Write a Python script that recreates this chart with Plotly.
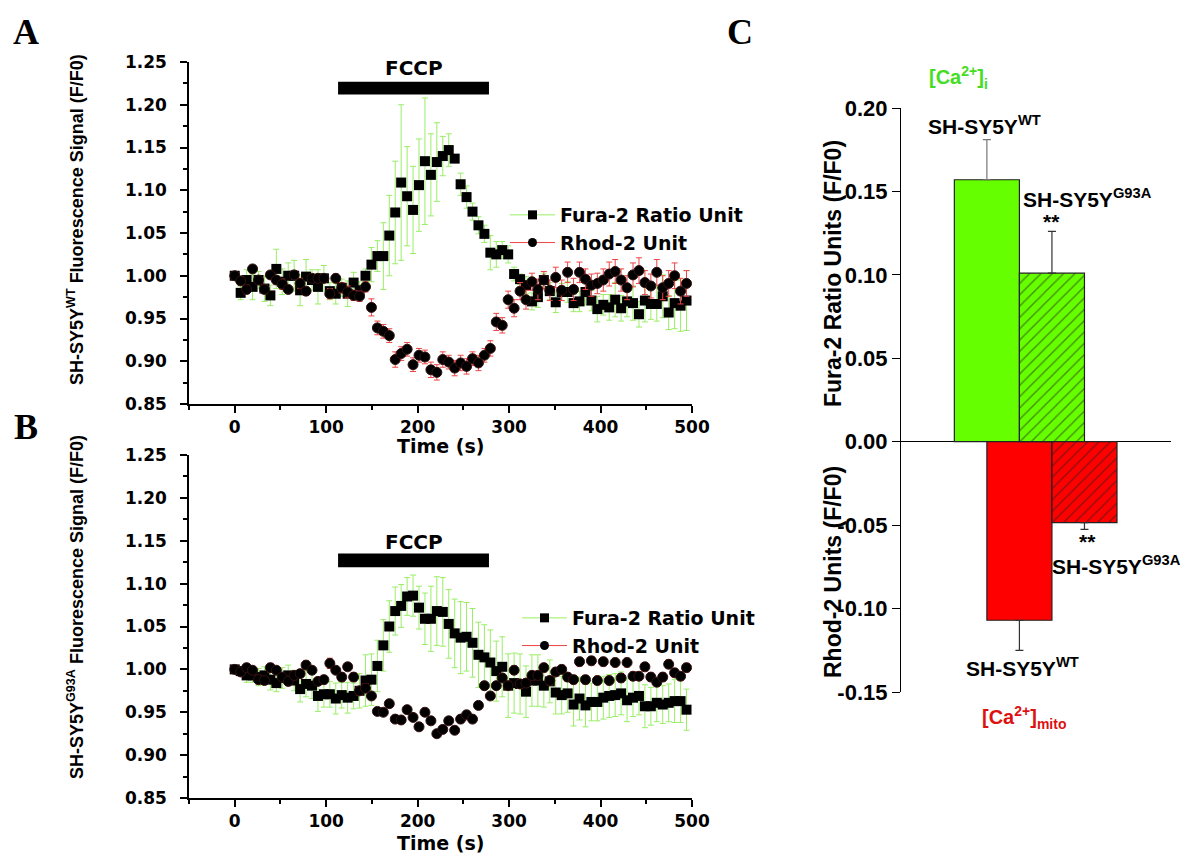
import plotly.graph_objects as go

GREEN_ERR = "#99ee66"
RED_ERR = "#ee4444"
BAR_GREEN = "#66ff00"
BAR_RED = "#ff0000"
TEXT_GREEN = "#44dd22"
TEXT_RED = "#dd1111"
WIDE = "DejaVu Sans"
ARIAL = "Liberation Sans"

TIME = [0, 6.5, 13, 19.5, 26, 32.5, 39, 45.5, 52, 58.5, 65, 71.5, 78, 84.5, 91, 97.5,
        104, 110.5, 117, 123.5, 130, 136.5, 143, 149.5, 156, 162.5, 169, 175.5, 182,
        188.5, 195, 201.5, 208, 214.5, 221, 227.5, 234, 240.5, 247, 253.5, 260, 266.5,
        273, 279.5, 286, 292.5, 299, 305.5, 312, 318.5, 325, 331.5, 338, 344.5, 351,
        357.5, 364, 370.5, 377, 383.5, 390, 396.5, 403, 409.5, 416, 422.5, 429, 435.5,
        442, 448.5, 455, 461.5, 468, 474.5, 481, 487.5, 494]

# panel A: SH-SY5Y WT
FURA_WT = [1.000, 0.980, 0.995, 0.987, 0.995, 0.985, 0.977, 1.008, 0.993, 1.000, 1.000,
           0.983, 0.999, 0.995, 0.987, 0.997, 0.982, 0.979, 0.986, 0.979, 0.992, 0.983,
           1.000, 1.013, 1.023, 1.023, 1.047, 1.074, 1.109, 1.093, 1.077, 1.106, 1.134,
           1.118, 1.133, 1.140, 1.147, 1.137, 1.107, 1.092, 1.075, 1.059, 1.049, 1.027,
           1.025, 1.030, 1.025, 1.002, 0.996, 0.989, 0.970, 0.975, 0.995, 0.982, 0.969,
           0.981, 0.981, 0.968, 0.970, 0.981, 0.971, 0.961, 0.966, 0.963, 0.972, 0.962,
           0.970, 0.968, 0.955, 0.971, 0.967, 0.967, 0.976, 0.957, 0.968, 0.965, 0.971]
FURA_WT_ERR = [0.005, 0.008, 0.012, 0.015, 0.010, 0.015, 0.012, 0.023, 0.015, 0.015, 0.018,
               0.018, 0.020, 0.012, 0.020, 0.015, 0.010, 0.012, 0.010, 0.015, 0.012, 0.010,
               0.008, 0.020, 0.018, 0.039, 0.047, 0.060, 0.091, 0.058, 0.051, 0.054, 0.074,
               0.048, 0.046, 0.023, 0.019, 0.003, 0.013, 0.013, 0.010, 0.010, 0.010, 0.020,
               0.015, 0.010, 0.010, 0.008, 0.006, 0.010, 0.010, 0.012, 0.008, 0.010, 0.012,
               0.010, 0.012, 0.010, 0.012, 0.015, 0.012, 0.015, 0.012, 0.015, 0.020, 0.015,
               0.018, 0.020, 0.015, 0.025, 0.018, 0.020, 0.025, 0.020, 0.030, 0.030, 0.035]
RHOD_WT = [1.000, 0.994, 0.984, 1.008, 0.995, 0.984, 1.001, 0.995, 0.990, 0.984, 1.001,
           0.991, 0.982, 0.997, 0.997, 0.997, 0.979, 0.997, 0.986, 0.981, 0.977, 0.976,
           0.987, 0.963, 0.939, 0.935, 0.930, 0.902, 0.909, 0.914, 0.896, 0.907, 0.905,
           0.890, 0.887, 0.902, 0.899, 0.892, 0.898, 0.894, 0.903, 0.898, 0.907, 0.915,
           0.946, 0.942, 0.972, 0.962, 0.982, 0.972, 0.993, 0.984, 0.995, 0.983, 0.998,
           0.983, 1.004, 0.984, 1.004, 0.996, 0.989, 0.991, 0.995, 1.002, 1.005, 0.995,
           0.986, 1.001, 1.006, 0.992, 0.988, 1.004, 0.986, 0.991, 1.000, 0.982, 0.991]
RHOD_WT_ERR = [0.004, 0.005, 0.005, 0.004, 0.004, 0.005, 0.004, 0.005, 0.006, 0.004, 0.005,
               0.006, 0.005, 0.004, 0.004, 0.004, 0.006, 0.005, 0.006, 0.007, 0.006, 0.006,
               0.006, 0.010, 0.008, 0.008, 0.008, 0.009, 0.008, 0.008, 0.008, 0.008, 0.008,
               0.009, 0.009, 0.009, 0.008, 0.009, 0.009, 0.009, 0.008, 0.009, 0.008, 0.009,
               0.010, 0.009, 0.010, 0.010, 0.010, 0.011, 0.010, 0.012, 0.010, 0.012, 0.012,
               0.012, 0.012, 0.013, 0.012, 0.012, 0.013, 0.012, 0.013, 0.014, 0.014, 0.013,
               0.014, 0.014, 0.015, 0.014, 0.014, 0.015, 0.014, 0.015, 0.015, 0.015, 0.015]

# panel B: SH-SY5Y G93A
FURA_G93A = [1.000, 0.998, 0.993, 0.993, 0.991, 0.993, 0.988, 0.984, 0.990, 0.993, 0.987,
             0.977, 0.983, 0.981, 0.969, 0.971, 0.971, 0.966, 0.970, 0.967, 0.969, 0.975,
             0.987, 0.988, 1.004, 1.028, 1.050, 1.068, 1.074, 1.085, 1.086, 1.072, 1.059,
             1.059, 1.068, 1.067, 1.053, 1.042, 1.037, 1.038, 1.031, 1.017, 1.014, 1.008,
             0.998, 1.003, 0.981, 0.984, 0.983, 0.974, 0.987, 0.987, 0.981, 0.986, 0.973,
             0.970, 0.972, 0.959, 0.966, 0.958, 0.962, 0.962, 0.967, 0.969, 0.970, 0.972,
             0.964, 0.967, 0.969, 0.957, 0.957, 0.961, 0.959, 0.961, 0.963, 0.963, 0.953]
FURA_G93A_ERR = [0.002, 0.005, 0.008, 0.008, 0.010, 0.010, 0.012, 0.010, 0.012, 0.012, 0.012,
                 0.015, 0.015, 0.015, 0.018, 0.015, 0.015, 0.018, 0.015, 0.018, 0.015, 0.020,
                 0.030, 0.030, 0.030, 0.030, 0.030, 0.028, 0.025, 0.022, 0.024, 0.025, 0.030,
                 0.038, 0.040, 0.040, 0.040, 0.040, 0.042, 0.040, 0.040, 0.038, 0.038, 0.038,
                 0.035, 0.035, 0.037, 0.035, 0.035, 0.030, 0.030, 0.030, 0.025, 0.025, 0.025,
                 0.022, 0.022, 0.025, 0.025, 0.025, 0.022, 0.022, 0.025, 0.025, 0.025, 0.025,
                 0.025, 0.022, 0.022, 0.025, 0.022, 0.022, 0.022, 0.022, 0.025, 0.025, 0.024]
RHOD_G93A = [1.000, 0.997, 1.002, 0.999, 0.988, 0.987, 1.002, 0.999, 0.991, 0.986, 0.993,
             0.995, 1.005, 0.999, 0.986, 0.988, 1.007, 0.999, 0.991, 1.003, 0.991, 0.975,
             0.978, 0.969, 0.951, 0.950, 0.960, 0.942, 0.941, 0.953, 0.944, 0.933, 0.950,
             0.940, 0.925, 0.930, 0.940, 0.929, 0.942, 0.947, 0.942, 0.958, 0.981, 0.969,
             0.981, 0.990, 0.981, 0.999, 0.983, 0.984, 0.993, 0.993, 1.002, 0.987, 0.997,
             1.000, 0.991, 0.988, 1.009, 0.988, 1.010, 0.987, 1.009, 0.987, 1.008, 0.990,
             1.008, 0.992, 0.992, 1.003, 0.991, 0.985, 0.991, 1.006, 0.996, 0.992, 1.002]
RHOD_G93A_ERR = [0.003, 0.004, 0.004, 0.004, 0.005, 0.004, 0.005, 0.004, 0.004, 0.005, 0.005,
                 0.004, 0.005, 0.004, 0.004, 0.005, 0.006, 0.004, 0.005, 0.004, 0.005, 0.005,
                 0.005, 0.004, 0.004, 0.004, 0.004, 0.004, 0.004, 0.004, 0.004, 0.004, 0.004,
                 0.004, 0.004, 0.004, 0.004, 0.004, 0.004, 0.004, 0.004, 0.004, 0.004, 0.004,
                 0.004, 0.005, 0.005, 0.005, 0.005, 0.005, 0.005, 0.005, 0.005, 0.005, 0.005,
                 0.005, 0.005, 0.005, 0.005, 0.005, 0.005, 0.005, 0.005, 0.005, 0.005, 0.005,
                 0.005, 0.005, 0.005, 0.005, 0.005, 0.005, 0.005, 0.005, 0.005, 0.005, 0.005]

FCCP_START = 113
FCCP_END = 278

# panel C: peak change from baseline
BAR_GROUPS = ["WT", "G93A"]
FURA_POS = [1.32, 2.32]
RHOD_POS = [1.82, 2.82]
FURA_DELTA = [0.157, 0.101]
FURA_DELTA_ERR = [0.024, 0.025]
RHOD_DELTA = [-0.107, -0.0485]
RHOD_DELTA_ERR = [0.018, 0.004]

# the page puts the plot 8px in from the top-left corner
OFF = 8
W, H = 1200 - OFF, 861 - OFF


def px_x(v):
    return (v - OFF) / W


def px_y(v):
    return 1 - (v - OFF) / H


fig = go.Figure()


def add_traces(fura, fura_err, rhod, rhod_err, xa, ya, legend):
    fig.add_trace(go.Scatter(
        x=TIME, y=fura, mode="markers", xaxis=xa, yaxis=ya, showlegend=False,
        marker=dict(symbol="square", size=10, color="black"),
        error_y=dict(type="data", array=fura_err, color=GREEN_ERR, thickness=1, width=3),
    ))
    fig.add_trace(go.Scatter(
        x=TIME, y=rhod, mode="markers", xaxis=xa, yaxis=ya, showlegend=False,
        marker=dict(symbol="circle", size=10, color="black", line=dict(color="#331111", width=1)),
        error_y=dict(type="data", array=rhod_err, color=RED_ERR, thickness=1, width=3),
    ))
    # legend samples
    fig.add_trace(go.Scatter(
        x=[None], y=[None], mode="lines+markers", name="Fura-2 Ratio Unit",
        xaxis=xa, yaxis=ya, legend=legend,
        line=dict(color=GREEN_ERR, width=1),
        marker=dict(symbol="square", size=9, color="black"),
    ))
    fig.add_trace(go.Scatter(
        x=[None], y=[None], mode="lines+markers", name="Rhod-2 Unit",
        xaxis=xa, yaxis=ya, legend=legend,
        line=dict(color=RED_ERR, width=1),
        marker=dict(symbol="circle", size=9, color="black"),
    ))


add_traces(FURA_WT, FURA_WT_ERR, RHOD_WT, RHOD_WT_ERR, "x", "y", "legend")
add_traces(FURA_G93A, FURA_G93A_ERR, RHOD_G93A, RHOD_G93A_ERR, "x2", "y2", "legend2")

for i, grp in enumerate(BAR_GROUPS):
    pattern = "" if grp == "WT" else "/"
    fig.add_trace(go.Bar(
        x=[FURA_POS[i]], y=[FURA_DELTA[i]], width=1, xaxis="x3", yaxis="y3",
        showlegend=False,
        marker=dict(color=BAR_GREEN, line=dict(color="#222222", width=1.2),
                    pattern=dict(shape=pattern, fgcolor="#222222", size=8, solidity=0.18)),
        error_y=dict(type="data", symmetric=False, array=[FURA_DELTA_ERR[i]], arrayminus=[0],
                     color="#777777" if grp == "WT" else "#333333", thickness=1.2, width=4),
    ))
    fig.add_trace(go.Bar(
        x=[RHOD_POS[i]], y=[RHOD_DELTA[i]], width=1, xaxis="x3", yaxis="y3",
        showlegend=False,
        marker=dict(color=BAR_RED, line=dict(color="#222222", width=1.2),
                    pattern=dict(shape=pattern, fgcolor="#222222", size=8, solidity=0.18)),
        error_y=dict(type="data", symmetric=False, array=[0], arrayminus=[RHOD_DELTA_ERR[i]],
                     color="#333333", thickness=1.2, width=4),
    ))

time_axis = dict(
    range=[-50, 500], tickvals=[0, 100, 200, 300, 400, 500], ticks="outside", ticklen=7,
    tickwidth=1.5, showline=True, linecolor="black", linewidth=1.5, showgrid=False,
    zeroline=False, tickfont=dict(family=WIDE, size=17, weight="bold", color="black"),
    minor=dict(tickvals=[-50, 50, 150, 250, 350, 450], ticks="outside", ticklen=4,
               tickcolor="black"),
    tickcolor="black",
)
signal_axis = dict(
    range=[0.85, 1.25], dtick=0.05, tickformat=".2f", ticks="outside", ticklen=7,
    tickwidth=1.5, showline=True, linecolor="black", linewidth=1.5, showgrid=False,
    zeroline=False, tickfont=dict(family=WIDE, size=17, weight="bold", color="black"),
    minor=dict(dtick=0.025, ticks="outside", ticklen=4, tickcolor="black"),
    tickcolor="black", ticklabelstandoff=10,
)

c_ticks = [-0.15, -0.10, -0.05, 0.0, 0.05, 0.10, 0.15, 0.20]
legend_style = dict(xanchor="left", yanchor="top", bgcolor="rgba(0,0,0,0)", tracegroupgap=0,
                    itemwidth=45, font=dict(family=WIDE, size=19, weight="bold", color="black"))

fig.update_layout(
    width=W, height=H, margin=dict(l=0, r=0, t=0, b=0, autoexpand=False),
    paper_bgcolor="white", plot_bgcolor="white",
    barmode="overlay",
    xaxis=dict(domain=[px_x(189), px_x(692)], anchor="y", **time_axis),
    yaxis=dict(domain=[px_y(404), px_y(62)], anchor="x", **signal_axis),
    xaxis2=dict(domain=[px_x(189), px_x(692)], anchor="y2", **time_axis),
    yaxis2=dict(domain=[px_y(798), px_y(455)], anchor="x2", **signal_axis),
    xaxis3=dict(domain=[px_x(901), px_x(1171)], anchor="y3", range=[0, 4.15], visible=False),
    yaxis3=dict(
        domain=[px_y(692), px_y(108)], anchor="x3", range=[-0.15, 0.20],
        tickvals=c_ticks, ticktext=[f"{v:.2f}" for v in c_ticks],
        ticks="outside", ticklen=8, tickwidth=1.2, tickcolor="black",
        showline=True, linecolor="black", linewidth=1.2, showgrid=False,
        zeroline=True, zerolinecolor="black", zerolinewidth=1.2,
        tickfont=dict(family=ARIAL, size=22, weight="bold", color="black"),
    ),
    legend=dict(x=px_x(505), y=px_y(196), **legend_style),
    legend2=dict(x=px_x(517), y=px_y(599), **legend_style),
)

# FCCP application bars
for xa, ya, y0, y1, ytxt in [("x", "y", 1.212, 1.227, 1.2425), ("x2", "y2", 1.119, 1.135, 1.148)]:
    fig.add_shape(type="rect", xref=xa, yref=ya, x0=FCCP_START, x1=FCCP_END, y0=y0, y1=y1,
                  fillcolor="black", line=dict(width=0))
    fig.add_annotation(xref=xa, yref=ya, x=(FCCP_START + FCCP_END) / 2, y=ytxt, text="FCCP",
                       showarrow=False, xanchor="center", yanchor="middle",
                       font=dict(family=WIDE, size=20, weight="bold", color="black"))

serif = dict(family="Liberation Serif", size=36, weight="bold")
annots = [
    # panel letters
    dict(x=26, y=32, text="A", font=dict(serif)),
    dict(x=26, y=427, text="B", font=dict(serif)),
    dict(x=740, y=32, text="C", font=dict(serif)),
    # axis titles A/B
    dict(x=75, y=220, text="SH-SY5Y<sup>WT</sup> Fluorescence Signal (F/F0)", textangle=-90,
         font=dict(family=ARIAL, size=18, weight="bold")),
    dict(x=75, y=607, text="SH-SY5Y<sup>G93A</sup> Fluorescence Signal (F/F0)", textangle=-90,
         font=dict(family=ARIAL, size=18, weight="bold")),
    dict(x=440, y=446, text="Time (s)", font=dict(family=WIDE, size=19, weight="bold")),
    dict(x=440, y=843, text="Time (s)", font=dict(family=WIDE, size=19, weight="bold")),
    # axis titles C
    dict(x=833, y=274, text="Fura-2 Ratio Units (F/F0)", textangle=-90,
         font=dict(family=ARIAL, size=23, weight="bold")),
    dict(x=833, y=572, text="Rhod-2 Units (F/F0)", textangle=-90,
         font=dict(family=ARIAL, size=23, weight="bold")),
    # compartment labels of panel C
    dict(x=958, y=78, text="[Ca<sup>2+</sup>]<sub>i</sub>",
         font=dict(family=ARIAL, size=20, weight="bold", color=TEXT_GREEN)),
    dict(x=1024, y=717, text="[Ca<sup>2+</sup>]<sub>mito</sub>",
         font=dict(family=ARIAL, size=20, weight="bold", color=TEXT_RED)),
]
for a in annots:
    a["font"].setdefault("color", "black")
    fig.add_annotation(xref="paper", yref="paper", x=px_x(a.pop("x")), y=px_y(a.pop("y")),
                       showarrow=False, xanchor="center", yanchor="middle", **a)

bar_labels = [
    (1.29, 0.190, "SH-SY5Y<sup>WT</sup>"),
    (2.86, 0.146, "SH-SY5Y<sup>G93A</sup>"),
    (2.31, 0.132, "**"),
    (2.86, -0.060, "**"),
    (3.31, -0.074, "SH-SY5Y<sup>G93A</sup>"),
    (1.86, -0.135, "SH-SY5Y<sup>WT</sup>"),
]
for x, y, txt in bar_labels:
    fig.add_annotation(xref="x3", yref="y3", x=x, y=y, text=txt, showarrow=False,
                       xanchor="center", yanchor="middle",
                       font=dict(family=ARIAL, size=21, weight="bold", color="black"))

fig.write_html("out.html")
